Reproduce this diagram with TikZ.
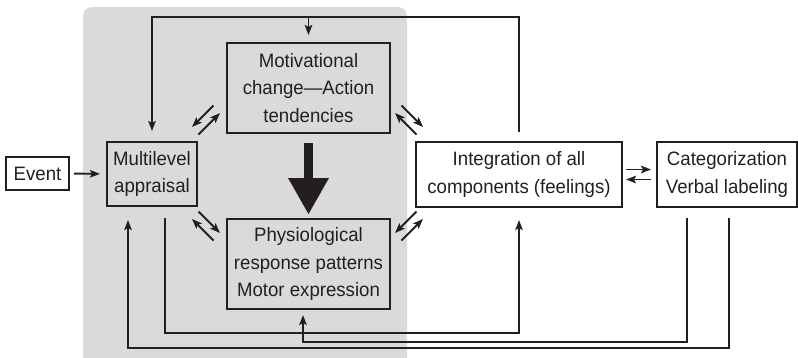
\documentclass[tikz,border=0pt]{standalone}
\usepackage{fontspec}
\setmainfont[FakeStretch=0.96]{Liberation Sans}
\usetikzlibrary{arrows.meta,calc}
\definecolor{ink}{HTML}{231F20}
\definecolor{panel}{HTML}{DADADA}
\begin{document}
\begin{tikzpicture}[x=1pt,y=-1pt,
  box/.style={draw=ink,line width=2pt,align=center,inner sep=0pt,text=ink,
    font=\fontsize{19.4}{27.5}\selectfont},
  wire/.style={draw=ink,line width=1.9pt},
  link/.style={wire,-{Stealth[length=10pt,width=7.5pt,inset=2pt]}},
  bigarrow/.style={draw=ink,line width=9pt,
    -{Triangle[width=41pt,length=36pt,line width=0pt]}}]
\useasboundingbox (0,0) rectangle (798,357);

% shaded panel behind the bodily components
\fill[panel,rounded corners=9pt] (83,7) rectangle (407,380);

% components
\node[box,minimum width=63pt,minimum height=33pt] (event) at (37.5,173.5) {Event};
\node[box,minimum width=90pt,minimum height=64pt] (appr) at (152,174) {Multilevel\\appraisal};
\node[box,minimum width=163pt,minimum height=90pt] (motiv) at (308.5,88) {Motivational\\change---Action\\tendencies};
\node[box,minimum width=163pt,minimum height=90pt] (phys) at (308.5,264) {Physiological\\response patterns\\Motor expression};
\node[box,minimum width=206pt,minimum height=65pt] (integ) at (519,174.5) {Integration of all\\components (feelings)};
\node[box,minimum width=140pt,minimum height=65pt] (categ) at (727,174.5) {Categorization\\Verbal labeling};

% routing levels for the feedback loops
\coordinate (topy) at (0,17);
\coordinate (b1) at (0,333);
\coordinate (b2) at (0,342);
\coordinate (b3) at (0,348);

% centres of the reciprocal arrow pairs
\coordinate (ul) at (206,120);
\coordinate (ur) at (409,120);
\coordinate (ll) at (206,226);
\coordinate (lr) at (409,226);

% event enters appraisal
\draw[link,shorten <=4pt,shorten >=6pt] (event.east) -- (appr.west);

% motivational change drives bodily response
\draw[bigarrow,shorten <=9pt,shorten >=4pt] (motiv) -- (phys);

% feedback from integration over the top
\draw[link] ([yshift=9pt]integ.north) -- (integ.north |- topy) -| ([yshift=10pt]appr.north);
\draw[link] (motiv.north |- topy) -- ([yshift=7pt]motiv.north);

% loops along the bottom
\draw[link] ($(appr.south)+(13,11)$) |- (integ.south |- b1) -- ($(integ.south)+(0,12)$);
\draw[link] ($(categ.south)+(-40,10)$) |- ($(phys.south |- b2)+(-5.5,0)$) -- ($(phys.south)+(-5.5,5)$);
\draw[link] ($(categ.south)+(2,10)$) |- ($(appr.south |- b3)+(-24,0)$) -- ($(appr.south)+(-24,13)$);

% integration <-> categorization
\draw[link,shorten <=3pt,shorten >=5pt] ([yshift=5pt]integ.east) -- ([yshift=5pt]categ.west);
\draw[link,shorten <=5pt,shorten >=3pt] ([yshift=-5pt]categ.west) -- ([yshift=-5pt]integ.east);

% reciprocal pairs between neighbouring components
\draw[link] ($(ul)+(7.5,-14.5)$) -- ($(ul)+(-14,7)$);
\draw[link] ($(ul)+(-7.5,14.5)$) -- ($(ul)+(14,-7)$);
\draw[link] ($(ur)+(-7.5,-14.5)$) -- ($(ur)+(14,7)$);
\draw[link] ($(ur)+(7.5,14.5)$) -- ($(ur)+(-14,-7)$);
\draw[link] ($(ll)+(-7.5,-14.5)$) -- ($(ll)+(14,7)$);
\draw[link] ($(ll)+(7.5,14.5)$) -- ($(ll)+(-14,-7)$);
\draw[link] ($(lr)+(7.5,-14.5)$) -- ($(lr)+(-14,7)$);
\draw[link] ($(lr)+(-7.5,14.5)$) -- ($(lr)+(14,-7)$);
\end{tikzpicture}
\end{document}
